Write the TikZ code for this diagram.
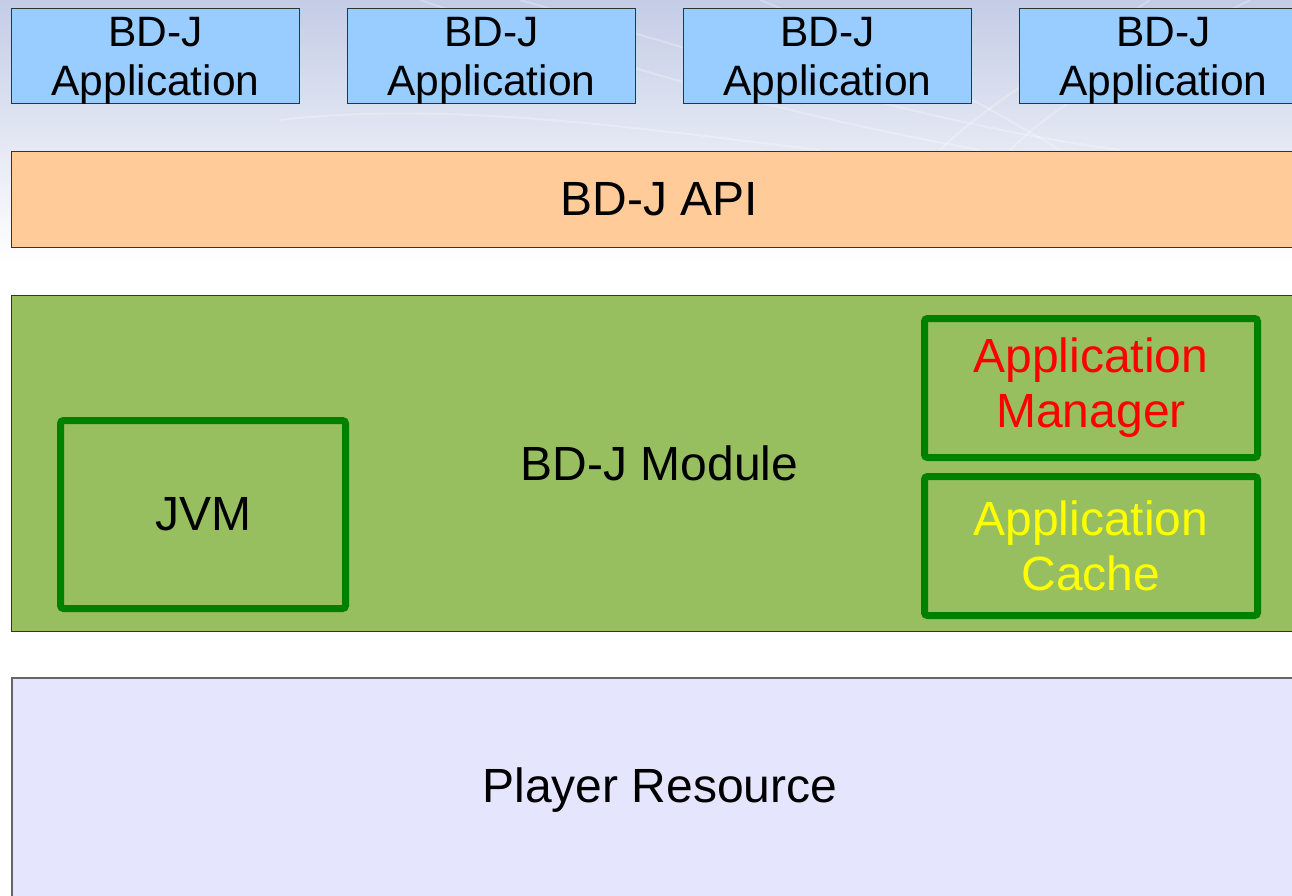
\documentclass[tikz,border=0pt]{standalone}
\usepackage{fontspec}
\setmainfont{Liberation Sans}
\definecolor{appblue}{HTML}{99CCFF}
\definecolor{apiorange}{HTML}{FFCC99}
\definecolor{modgreen}{RGB}{151,191,96}
\definecolor{boxgreen}{HTML}{008000}
\definecolor{resviolet}{RGB}{229,229,254}
\definecolor{edge}{RGB}{51,51,51}
\definecolor{skytop}{RGB}{196,204,230}
\definecolor{amred}{HTML}{FF0000}
\definecolor{acyellow}{HTML}{FFFF00}
\tikzset{
  layer/.style={draw=edge, line width=1pt, inner sep=0pt, align=center,
    font=\fontsize{48}{55}\selectfont},
  appbox/.style={layer, fill=appblue, minimum width=288pt, minimum height=95pt,
    anchor=north west, text depth=0pt, font=\fontsize{42.5}{49}\selectfont},
  part/.style={draw=boxgreen, line width=7pt, rounded corners=3pt, inner sep=0pt,
    align=center, font=\fontsize{48}{55}\selectfont},
  streak/.style={white, line width=2pt, opacity=0.25}
}
\begin{document}
\begin{tikzpicture}[x=1pt,y=-1pt]
  \useasboundingbox (0,0) rectangle (1292,895);
  \begin{scope}
    \clip (0,0) rectangle (1292,895);
    % backdrop: pale sky gradient fading into white
    \fill[white] (0,0) rectangle (1292,895);
    \shade[top color=skytop, bottom color=white] (0,0) rectangle (1292,262);
    % faint light streaks in the backdrop
    \draw[streak] (420,0) .. controls (600,60) and (760,110) .. (980,150);
    \draw[streak] (520,0) .. controls (700,50) and (900,120) .. (1120,150);
    \draw[streak] (760,0) .. controls (860,40) and (960,90) .. (1060,150);
    \draw[streak] (1150,0) .. controls (1060,60) and (980,110) .. (940,150);
    \draw[streak] (1250,0) .. controls (1150,50) and (1060,100) .. (1010,150);
    \draw[streak] (280,120) .. controls (450,100) and (650,130) .. (820,150);

    % application layer
    \node[appbox] (app1) at (11,8)   {BD-J\\Application};
    \node[appbox] (app2) at (347,8)  {BD-J\\Application};
    \node[appbox] (app3) at (683,8)  {BD-J\\Application};
    \node[appbox] (app4) at (1019,8) {BD-J\\Application};

    % API layer
    \node[layer, fill=apiorange, minimum width=1296pt, minimum height=96pt,
      anchor=north west] (api) at (11,151) {BD-J API};

    % module layer with its parts
    \node[layer, fill=modgreen, minimum width=1296pt, minimum height=336pt,
      anchor=north west] (module) at (11,295) {BD-J Module};
    \node[part, minimum width=285pt, minimum height=188pt] (jvm) at (203,514.5) {JVM};
    \node[part, minimum width=333pt, minimum height=139pt, text=amred] (mgr) at (1091,388)
      {Application\\Manager};
    \node[part, minimum width=333pt, minimum height=139pt, text=acyellow] (cache) at (1091,546)
      {Application\\Cache};

    % resource layer
    \node[layer, draw=gray!80!black, line width=2pt, fill=resviolet, minimum width=1296pt,
      minimum height=224pt, anchor=north west] (res) at (11,677) {Player Resource};
  \end{scope}
\end{tikzpicture}
\end{document}
